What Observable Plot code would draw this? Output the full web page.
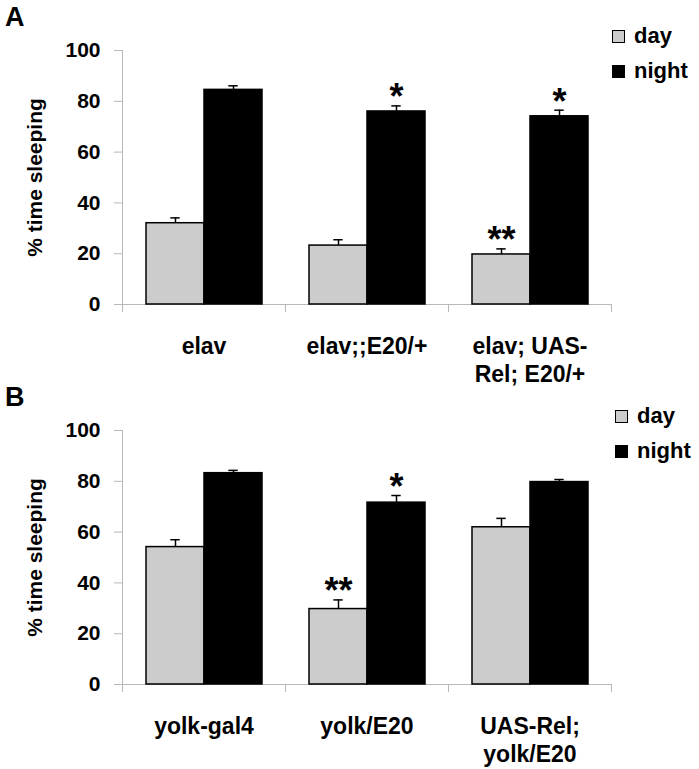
<!DOCTYPE html>
<html>
<head>
<meta charset="utf-8">
<script src="https://cdn.jsdelivr.net/npm/d3@7"></script>
<script src="https://cdn.jsdelivr.net/npm/@observablehq/plot@0.6"></script>
<style>
  html, body { margin: 0; padding: 0; background: white; }
  body { font-family: "Liberation Sans", Arial, sans-serif; font-weight: bold; }
  #root { position: relative; width: 699px; height: 769px; overflow: hidden; background: white; }
  .panel { position: absolute; left: 0; width: 699px; height: 380px; }
  .letter { position: absolute; font-size: 27px; line-height: 27px; font-weight: bold; }
  .legend { position: absolute; font-size: 22px; font-weight: bold; }
  .legend .item { position: absolute; left: 0; white-space: nowrap; height: 24px; line-height: 24px; }
  .legend .sw { position: absolute; left: 0; top: 5px; width: 11px; height: 11px; border: 1px solid #000; }
  .legend .lab { position: absolute; left: 22px; top: -1px; }
</style>
</head>
<body>
<div id="root"></div>
<script>
const periods = ["day", "night"];
const periodColors = ["#cccccc", "#000000"];
const yTicks = [0, 20, 40, 60, 80, 100];
const yLabel = "% time sleeping";

// Panel A
const catsA = ["elav", "elav;;E20/+", "elav; UAS-\nRel; E20/+"];
const dayA = [32.0, 23.2, 19.7];
const dayErrA = [2.1, 2.3, 2.2];
const nightA = [84.5, 76.0, 74.1];
const nightErrA = [1.6, 2.2, 2.4];
const sigDayA = ["", "", "**"];
const sigNightA = ["", "*", "*"];

// Panel B
const catsB = ["yolk-gal4", "yolk/E20", "UAS-Rel;\nyolk/E20"];
const dayB = [54.1, 29.7, 61.9];
const dayErrB = [2.9, 3.6, 3.5];
const nightB = [83.2, 71.6, 79.7];
const nightErrB = [1.1, 2.8, 1.0];
const sigDayB = ["", "**", ""];
const sigNightB = ["", "*", ""];

const FONT = '"Liberation Sans", Arial, sans-serif';
const AXIS_GRAY = "#b8b8b8";

function panel(cats, day, dayErr, night, nightErr, sigDay, sigNight) {
  const data = [];
  cats.forEach((c, i) => {
    data.push({cat: c, period: periods[0], value: day[i], upper: day[i] + dayErr[i], sig: sigDay[i]});
    data.push({cat: c, period: periods[1], value: night[i], upper: night[i] + nightErr[i], sig: sigNight[i]});
  });
  return Plot.plot({
    width: 699,
    height: 380,
    marginLeft: 122,
    marginRight: 88,
    marginTop: 50,
    marginBottom: 76,
    style: {fontFamily: FONT, fontWeight: "bold", color: "black", background: "transparent", overflow: "visible"},
    fx: {domain: cats, padding: 0, label: null},
    x: {domain: periods, paddingInner: 0, paddingOuter: 0.39, axis: null},
    y: {domain: [0, 100]},
    color: {domain: periods, range: periodColors},
    marks: [
      Plot.ruleY([0], {stroke: AXIS_GRAY, strokeWidth: 1}),
      Plot.frame({anchor: "left", stroke: AXIS_GRAY, insetBottom: -7, facetAnchor: "left"}),
      Plot.frame({anchor: "left", stroke: AXIS_GRAY, insetTop: 254, insetBottom: -7}),
      Plot.frame({anchor: "right", stroke: AXIS_GRAY, insetTop: 254, insetBottom: -7}),
      Plot.axisY({
        ticks: yTicks, tickSize: 8, tickPadding: 14, stroke: AXIS_GRAY, fill: "black",
        fontSize: 21, fontWeight: "bold",
        label: yLabel, labelAnchor: "center", labelOffset: 95, labelArrow: "none"
      }),
      Plot.axisFx({anchor: "bottom", tickSize: 0, tickPadding: 30, fontSize: 23, fontWeight: "bold", lineHeight: 1.22, label: null, fill: "black"}),
      Plot.barY(data, {fx: "cat", x: "period", y: "value", fill: "period", stroke: "black", strokeWidth: 1.5, inset: 0}),
      Plot.ruleX(data, {fx: "cat", x: "period", y1: "value", y2: "upper", stroke: "black", strokeWidth: 1.5}),
      Plot.tickY(data, {fx: "cat", x: "period", y: "upper", stroke: "black", strokeWidth: 1.5, insetLeft: 24.3, insetRight: 24.3}),
      Plot.text(data, {fx: "cat", x: "period", y: "upper", text: "sig", dy: -8, lineAnchor: "middle", fontSize: 36, fontWeight: "bold", fill: "black"})
    ]
  });
}

function legend(left, top) {
  const lg = document.createElement("div");
  lg.className = "legend";
  lg.style.left = left + "px";
  lg.style.top = top + "px";
  periods.forEach((p, i) => {
    const it = document.createElement("div");
    it.className = "item";
    it.style.top = (i * 35) + "px";
    const sw = document.createElement("div");
    sw.className = "sw";
    sw.style.background = periodColors[i];
    const lab = document.createElement("span");
    lab.className = "lab";
    lab.textContent = p;
    it.appendChild(sw);
    it.appendChild(lab);
    lg.appendChild(it);
  });
  return lg;
}

const root = document.getElementById("root");
const panels = [
  {letter: "A", top: 0, chart: panel(catsA, dayA, dayErrA, nightA, nightErrA, sigDayA, sigNightA), lx: 612},
  {letter: "B", top: 380, chart: panel(catsB, dayB, dayErrB, nightB, nightErrB, sigDayB, sigNightB), lx: 615}
];
panels.forEach(p => {
  const div = document.createElement("div");
  div.className = "panel";
  div.style.top = p.top + "px";
  div.appendChild(p.chart);
  root.appendChild(div);
  const L = document.createElement("div");
  L.className = "letter";
  L.textContent = p.letter;
  L.style.left = "5px";
  L.style.top = (p.top + 4) + "px";
  root.appendChild(L);
  root.appendChild(legend(p.lx, p.top + 25));
});
</script>
</body>
</html>
